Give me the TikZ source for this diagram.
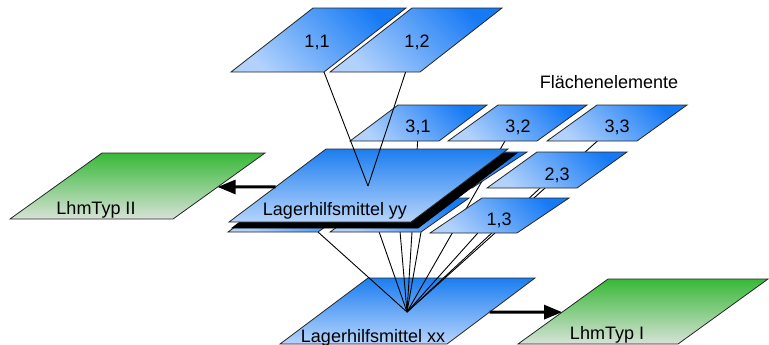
\documentclass[tikz,border=0pt]{standalone}
\usepackage{fontspec}
\setmainfont{Liberation Sans}
\usepackage{tikz}
\usetikzlibrary{calc,arrows.meta}
\definecolor{FEBlue}{RGB}{22,122,245}
\definecolor{FELight}{RGB}{178,210,252}
\definecolor{LhmBlue}{RGB}{28,126,240}
\definecolor{LhmLight}{RGB}{182,212,252}
\pgfdeclarelayer{unten}
\pgfdeclarelayer{verbinder}
\pgfsetlayers{unten,verbinder,main}

\newcommand{\kachel}[6]{%
	\path[#1] (#3) coordinate (#2-bl) -- ++(#4,0) coordinate (#2-br)
		-- ++(#6,-#5) coordinate (#2-tr) -- ++(-#4,0) coordinate (#2-tl) -- cycle;}

\begin{document}
\begin{tikzpicture}[x=0.5pt,y=-0.5pt]
	\definecolor{typgreen}{RGB}{55,185,55}
	\definecolor{typlight}{RGB}{215,226,215}
	\tikzset{
		feelem/.style={
			draw=black!85,
			line width=0.4pt,
			top color=FEBlue,
			bottom color=FELight,
			shading angle=-45
		},
		lhmtile/.style={
			draw=black!85,
			line width=0.4pt,
			top color=LhmBlue,
			bottom color=LhmLight
		},
		typtile/.style={
			draw=black!85,
			line width=0.4pt,
			top color=typgreen,
			bottom color=typlight
		},
		blocktile/.style={draw=black, fill=black},
		fetext/.style={anchor=base, inner sep=0pt, font=\fontsize{9}{10.8}\selectfont},
		zuord/.style={draw=black, line width=0.45pt},
		pfeil/.style={draw=black, line width=1.5pt, -{Triangle[length=9pt,width=7pt]}}
	}
	\useasboundingbox (0,0) rectangle (769,344);
	
	\begin{pgfonlayer}{unten}
		\kachel{typtile}{typ2}{10,219}{163}{66}{92}
		\kachel{typtile}{typ1}{518,344}{160}{65}{90}
		\kachel{lhmtile}{xx}{280,344}{167}{66}{88}
	\end{pgfonlayer}
	\coordinate (xxv) at (407,312);
	\coordinate (yyv) at (368,186);
	
	\kachel{feelem}{ua2}{280,188}{90}{36}{50}
	\kachel{feelem}{ub2}{382,188}{90}{36}{55}
	\kachel{feelem}{ua1}{228,232}{90}{34}{47}
	\kachel{feelem}{ub1}{330,232}{91}{34}{48}
	\kachel{blocktile}{schatten}{232,228}{186}{75}{99}
	\kachel{lhmtile}{yy}{229,222}{182}{73}{97}
	
	\kachel{feelem}{t31}{350,141}{89}{36}{48}
	\kachel{feelem}{t32}{448,141}{89}{36}{50}
	\kachel{feelem}{t33}{547,141}{90}{36}{50}
	\kachel{feelem}{t23}{487,188}{90}{36}{50}
	\kachel{feelem}{t13}{430,233}{87}{35}{52}
	\kachel{feelem}{t11}{231,72}{93}{64}{82}
	\kachel{feelem}{t12}{330,72}{90}{64}{82}
	
	\begin{pgfonlayer}{verbinder}
		\draw[zuord] (ua1-br) -- (xxv);
		\draw[zuord] ($(ub1-bl)!0.54!(ub1-br)$) -- (xxv);
		\draw[zuord] ($(ub1-bl)!0.77!(ub1-br)$) -- (xxv);
		\draw[zuord] (ub1-br) -- (xxv);
		\draw[zuord] ($(t31-bl)!0.76!(t31-br)$) -- (xxv);
		\draw[zuord] ($(t32-bl)!0.64!(t32-br)$) -- (xxv);
		\draw[zuord] ($(t33-bl)!0.56!(t33-br)$) -- (xxv);
		\draw[zuord] ($(t23-bl)!0.59!(t23-br)$) -- (xxv);
		\draw[zuord] ($(t13-bl)!0.55!(t13-br)$) -- (xxv);
	\end{pgfonlayer}
	\draw[zuord] (t11-br) -- (yyv);
	\draw[zuord] ($(t12-bl)!0.84!(t12-br)$) -- (yyv);
	
	\draw[pfeil] ($(yy-bl)!0.48!(yy-tl)$) -- ($(typ2-br)!0.485!(typ2-tr)$);
	\draw[pfeil] ($(xx-br)!0.485!(xx-tr)$) -- ($(typ1-bl)!0.49!(typ1-tl)$);
	
	\node[fetext] (l11) at (317,47) {1,1};
	\node[fetext] (l12) at (417,47) {1,2};
	\node[fetext] (l31) at (418,132) {3,1};
	\node[fetext] (l32) at (518,132) {3,2};
	\node[fetext] (l33) at (617,132) {3,3};
	\node[fetext] (l23) at (557,180) {2,3};
	\node[fetext] (l13) at (499,225) {1,3};
	\node[fetext] (lyy) at (335,215) {Lagerhilfsmittel yy};
	\node[fetext] (lxx) at (373,342) {Lagerhilfsmittel xx};
	\node[fetext] (ltyp2) at (96,214) {LhmTyp II};
	\node[fetext] (ltyp1) at (607,339) {LhmTyp I};
	\node[fetext] (lfe) at (609,88) {Flächenelemente};
\end{tikzpicture}
\end{document}
